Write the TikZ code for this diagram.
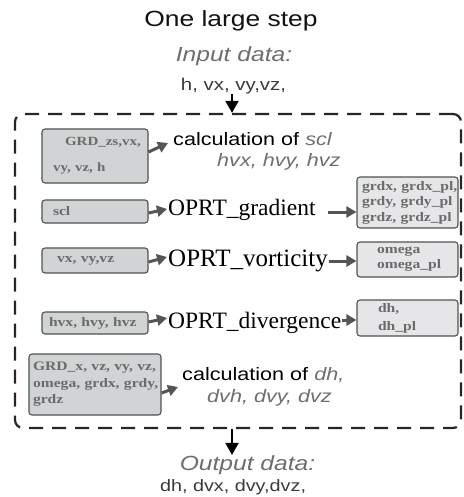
\documentclass[tikz,border=0pt]{standalone}
\usepackage{fontspec}
\setmainfont{Liberation Serif}
\newfontfamily\arialx[FakeStretch=1.2]{Liberation Sans}
\newfontfamily\boxfnt[FakeStretch=1.2]{Liberation Serif}
\usetikzlibrary{arrows.meta,calc}
\definecolor{boxline}{HTML}{4A5652}
\definecolor{infill}{HTML}{D2D3D5}
\definecolor{outfill}{HTML}{E6E6E8}
\definecolor{boxtxt}{HTML}{6B6B6B}
\definecolor{arrowc}{HTML}{555555}
\definecolor{graytxt}{HTML}{6E6E6E}
\definecolor{darktxt}{HTML}{3A3A3A}
\newcommand\setfs[2]{\fontsize{#1}{#2}\selectfont}
\tikzset{
  databox/.style={draw=boxline, line width=1.1pt, rounded corners=3pt,
    inner ysep=0pt, text=boxtxt, align=left},
  inbox/.style={databox, fill=infill},
  outbox/.style={databox, fill=outfill},
  sanslbl/.style={inner sep=0pt, font=\arialx\setfs{18}{21}},
  timeslbl/.style={inner sep=0pt, font=\setfs{23.5}{26}, anchor=base west},
  garrow/.style={draw=arrowc, line width=3pt, -{Triangle[length=10pt,width=11pt]}},
  karrow/.style={draw=black, line width=2pt, -{Triangle[length=12pt,width=13pt]}},
  frame/.style={draw=black!85, line width=2.2pt, dash pattern=on 14pt off 9pt,
    rounded corners=8pt, minimum width=446pt, minimum height=314pt, inner sep=0pt}
}
\begin{document}
\begin{tikzpicture}[x=1pt,y=-1pt]
\useasboundingbox (0,0) rectangle (463,497);

% title and input
\node[sanslbl, font=\arialx\setfs{22}{25}, text=black!93, anchor=base] (title) at (231,27) {One large step};
\node[sanslbl, font=\arialx\itshape\setfs{20.5}{23}, text=graytxt, anchor=base] (inp1) at (234,62) {Input data:};
\node[sanslbl, font=\arialx\setfs{17}{19}, text=darktxt, anchor=base] (inp2) at (233.5,90.5) {h, vx, vy,vz,};

% frame
\node[frame] (frame) at (238,271) {};

% input boxes
\node[inbox, inner xsep=11pt, text width=84pt, minimum height=54pt, font=\boxfnt\bfseries\setfs{12.5}{13}] (b1) at (95,156)
  {\mbox{\hspace*{12pt}GRD\_zs,vx,}\\[13pt]\mbox{vy, vz, h}};
\node[inbox, inner xsep=11pt, text width=84pt, minimum height=23pt, font=\boxfnt\bfseries\setfs{13}{15}] (b2) at (95,211.5) {scl};
\node[inbox, inner xsep=15pt, text width=76pt, minimum height=25pt, font=\boxfnt\bfseries\setfs{13}{15}] (b3) at (95,260.5) {\mbox{vx, vy,vz}};
\node[inbox, inner xsep=7pt, text width=92pt, minimum height=22pt, font=\boxfnt\bfseries\setfs{13}{15}] (b4) at (95,323) {\mbox{hvx, hvy, hvz}};
\node[inbox, inner xsep=4pt, text width=124pt, minimum height=61pt, font=\boxfnt\bfseries\setfs{13}{16.5}] (b5) at (95,384.5)
  {\mbox{GRD\_x, vz, vy, vz,}\\\mbox{omega, grdx, grdy,}\\\mbox{grdz}};

% output boxes
\node[outbox, inner xsep=5pt, text width=91pt, minimum height=51pt, font=\boxfnt\bfseries\setfs{13}{15.5}] (o1) at (407.5,202.5)
  {\mbox{grdx, grdx\_pl,}\\\mbox{grdy, grdy\_pl}\\\mbox{grdz, grdz\_pl}};
\node[outbox, inner xsep=20pt, text width=61pt, minimum height=35pt, font=\boxfnt\bfseries\setfs{13}{15}] (o2) at (407.5,259.5)
  {omega\\\mbox{omega\_pl}};
\node[outbox, inner xsep=21pt, text width=59pt, minimum height=36pt, font=\boxfnt\bfseries\setfs{13}{18}] (o3) at (407.5,318)
  {dh,\\\mbox{dh\_pl}};

% operation labels
\node[sanslbl, anchor=base west] (c1) at (173,146) {calculation of \textcolor{graytxt}{\itshape scl}};
\node[sanslbl, anchor=base west, text=graytxt, font=\arialx\itshape\setfs{18}{21}] (c1b) at (217,167) {hvx, hvy, hvz};
\node[timeslbl] (grad) at (168,215) {OPRT\_gradient};
\node[timeslbl, font=\setfs{25}{27}] (vort) at (168,266) {OPRT\_vorticity};
\node[timeslbl] (div) at (168,328) {OPRT\_divergence};
\node[sanslbl, anchor=base west] (c2) at (182,380) {calculation of \textcolor{graytxt}{\itshape dh,}};
\node[sanslbl, anchor=base west, text=graytxt, font=\arialx\itshape\setfs{18}{21}] (c2b) at (207,402) {dvh, dvy, dvz};

% output labels
\node[sanslbl, font=\arialx\itshape\setfs{20.5}{23}, text=graytxt, anchor=base] (out1) at (247.5,470) {Output data:};
\node[sanslbl, font=\arialx\setfs{16.5}{19}, text=darktxt, anchor=base] (out2) at (233,491) {dh, dvx, dvy,dvz,};

% black arrows
\coordinate (ta) at ([xshift=-1.5pt]inp2.south);
\draw[karrow] (ta) -- (ta |- frame.north);
\coordinate (ba) at (frame.south -| ta);
\draw[karrow] (ba) -- (ba |- out1.north);

% gray input arrows
\draw[garrow] ([yshift=4pt]b1.east) -- ([xshift=-5pt,yshift=3pt]c1.base west);
\draw[garrow] ([yshift=-1.5pt]b2.east) -- ([xshift=-1pt,yshift=6pt]grad.base west);
\draw[garrow] ([yshift=-1.5pt]b3.east) -- ([xshift=-1pt,yshift=9pt]vort.base west);
\draw[garrow] ([yshift=1pt]b4.east) -- ([xshift=-1pt,yshift=10pt]div.base west);
\draw[garrow] ([yshift=-8.5pt]b5.east) -- ([xshift=-4pt,yshift=-7pt]c2.base west);

% gray output arrows
\coordinate (g1) at ([xshift=12pt,yshift=3pt]grad.base east);
\draw[garrow] (g1) -- (g1 -| o1.west);
\coordinate (g2) at ([xshift=1pt,yshift=5pt]vort.base east);
\draw[garrow] (g2) -- (g2 -| o2.west);
\coordinate (g3) at ([xshift=1pt,yshift=8pt]div.base east);
\draw[garrow] (g3) -- (g3 -| o3.west);
\end{tikzpicture}
\end{document}
